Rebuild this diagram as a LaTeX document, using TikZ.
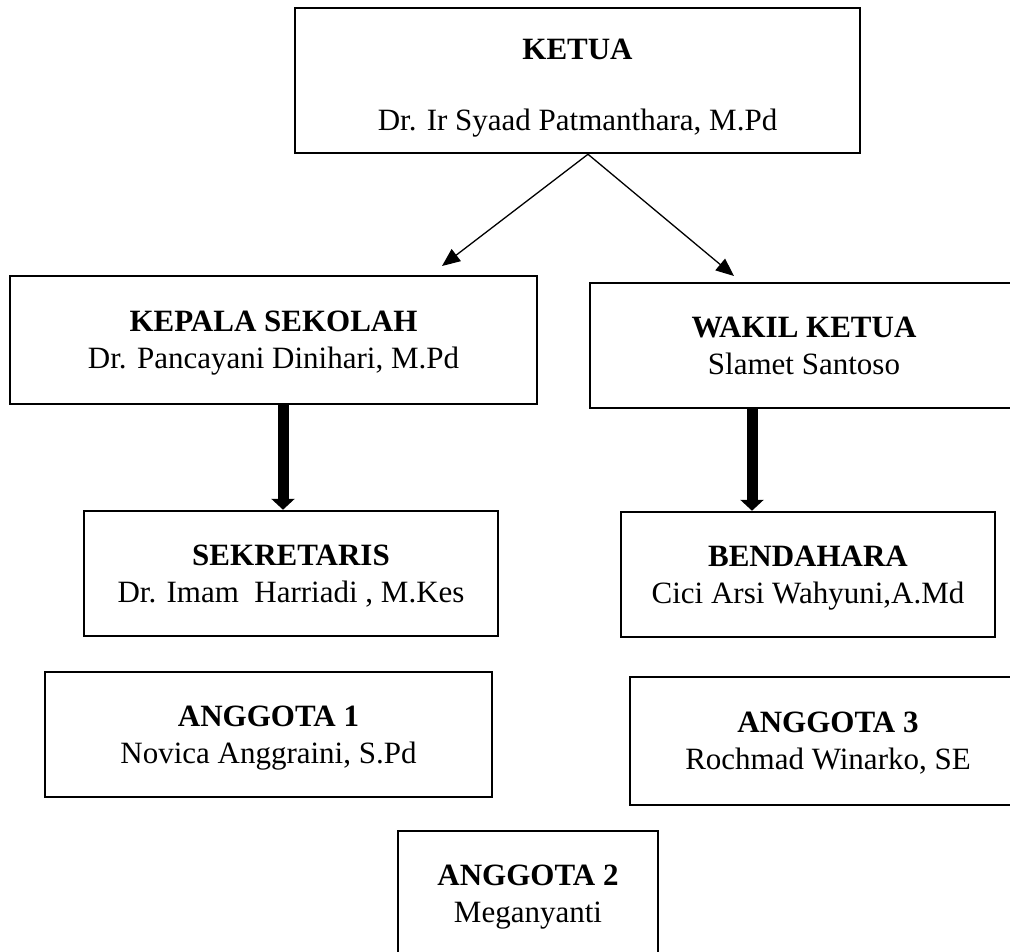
\documentclass[tikz,border=0pt]{standalone}
\usepackage{fontspec}
\setmainfont{Liberation Serif}
\usetikzlibrary{arrows.meta}
\newcommand{\fstl}{\rule{0pt}{28pt}}
\newcommand{\lstl}{\rule[-8pt]{0pt}{8pt}}
\begin{document}
\begin{tikzpicture}[x=1pt,y=-1pt,
  box/.style={draw=black, line width=2.5pt, inner sep=0pt, align=center,
    font=\fontsize{31}{37}\selectfont},
  thinarrow/.style={line width=1.3pt, -{Triangle[length=18pt,width=15pt]}},
  thickarrow/.style={line width=11pt, -{Triangle[length=11pt,width=23pt]}}]
\useasboundingbox (0,0) rectangle (1010,952);
\fill[white] (0,0) rectangle (1010,952);

\node[box, minimum width=565pt, minimum height=145pt] (ketua) at (577.5,80.5)
  {\rule{0pt}{37pt}\textbf{KETUA}\\[34pt]Dr. Ir Syaad Patmanthara, M.Pd\lstl};
\node[box, minimum width=527pt, minimum height=128pt] (kepala) at (273.5,340)
  {\fstl\textbf{KEPALA SEKOLAH}\\Dr. Pancayani Dinihari, M.Pd\lstl};
\node[box, minimum width=428pt, minimum height=125pt] (wakil) at (804,345.5)
  {\fstl\textbf{WAKIL KETUA}\\Slamet Santoso\lstl};
\node[box, minimum width=414pt, minimum height=125pt] (sekretaris) at (291,573.5)
  {\fstl\textbf{SEKRETARIS}\\Dr. Imam\ \ Harriadi , M.Kes\lstl};
\node[box, minimum width=374pt, minimum height=125pt] (bendahara) at (808,574.5)
  {\fstl\textbf{BENDAHARA}\\Cici Arsi Wahyuni,A.Md\lstl};
\node[box, minimum width=447pt, minimum height=125pt] (anggota1) at (268.5,734.5)
  {\fstl\textbf{ANGGOTA 1}\\Novica Anggraini, S.Pd\lstl};
\node[box, minimum width=396pt, minimum height=128pt] (anggota3) at (828,741)
  {\fstl\textbf{ANGGOTA 3}\\Rochmad Winarko, SE\lstl};
\node[box, minimum width=260pt, minimum height=125pt] (anggota2) at (528,893.5)
  {\fstl\textbf{ANGGOTA 2}\\Meganyanti\lstl};

\coordinate (apex) at (588,0);
\coordinate (tipL) at (442,266);
\coordinate (tipR) at (734,276);
\coordinate (colL) at (283,0);
\coordinate (colR) at (752,0);

\draw[thinarrow] (ketua.south -| apex) -- (tipL);
\draw[thinarrow] (ketua.south -| apex) -- (tipR);
\draw[thickarrow] (kepala.south -| colL) -- (sekretaris.north -| colL);
\draw[thickarrow] (wakil.south -| colR) -- (bendahara.north -| colR);
\end{tikzpicture}
\end{document}
